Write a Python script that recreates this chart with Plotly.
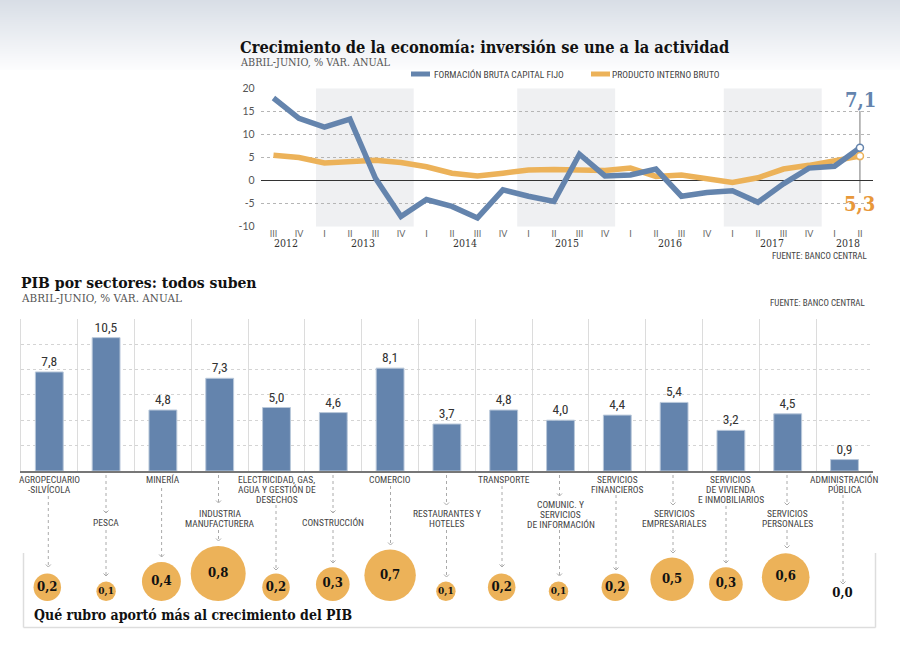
import math
import plotly.graph_objects as go

# ---------------------------
# Data
# ---------------------------
quarters = ["III", "IV",
            "I", "II", "III", "IV",
            "I", "II", "III", "IV",
            "I", "II", "III", "IV",
            "I", "II", "III", "IV",
            "I", "II", "III", "IV",
            "I", "II"]
years = ["2012", "2013", "2014", "2015", "2016", "2017", "2018"]
fbcf = [17.9, 13.5, 11.6, 13.3, 0.5, -7.8, -4.1, -5.6, -8.1, -2.0, -3.4, -4.5,
        5.7, 1.0, 1.2, 2.5, -3.4, -2.6, -2.2, -4.7, -0.7, 2.7, 3.1, 7.1]
pib = [5.5, 5.0, 3.8, 4.2, 4.4, 3.9, 3.0, 1.6, 1.0, 1.6, 2.3, 2.4,
       2.2, 2.2, 2.7, 0.9, 1.2, 0.4, -0.4, 0.6, 2.5, 3.3, 4.2, 5.3]
y_ticks = [20, 15, 10, 5, 0, -5, -10]
y_tick_labels = ["20", "15", "10", "5", "0", "-5", "-10"]

sectors = ["AGROPECUARIO<br>-SILVÍCOLA", "PESCA", "MINERÍA", "INDUSTRIA<br>MANUFACTURERA",
           "ELECTRICIDAD, GAS,<br>AGUA Y GESTIÓN DE<br>DESECHOS", "CONSTRUCCIÓN", "COMERCIO",
           "RESTAURANTES Y<br>HOTELES", "TRANSPORTE", "COMUNIC. Y<br>SERVICIOS<br>DE INFORMACIÓN",
           "SERVICIOS<br>FINANCIEROS", "SERVICIOS<br>EMPRESARIALES",
           "SERVICIOS<br>DE VIVIENDA<br>E INMOBILIARIOS", "SERVICIOS<br>PERSONALES",
           "ADMINISTRACIÓN<br>PÚBLICA"]
growth = [7.8, 10.5, 4.8, 7.3, 5.0, 4.6, 8.1, 3.7, 4.8, 4.0, 4.4, 5.4, 3.2, 4.5, 0.9]
contribution = [0.2, 0.1, 0.4, 0.8, 0.2, 0.3, 0.7, 0.1, 0.2, 0.1, 0.2, 0.5, 0.3, 0.6, 0.0]

# ---------------------------
# Layout constants (pixels on the 900x649 page)
# ---------------------------
W, H = 900, 649
BLUE = "#6484ad"
ORANGE = "#ecb259"
SERIF = "DejaVu Serif Condensed, DejaVu Serif"
SANS = "Noto Sans Condensed, Roboto Condensed, Lato"
GRAY = "#444"

BAND_SPANS = [(1.67, 5.5), (9.56, 13.4), (17.66, 21.5)]
YEAR_POS = [0.5, 3.5, 7.5, 11.5, 15.55, 19.55, 22.55]
LABEL_Y = [479, 522, 479, 513, 479, 522, 479, 513, 479, 504, 479, 513, 479, 513, 479]
BUBBLE_NUDGE = [-2, 0, -1.5, -1.5, -0.5, -0.5, 0, -1, -2, -2, -2, -2, -5, -2, -2]
BUBBLE_SCALE = 61.5  # pixels of diameter for sqrt(value)=1

# x, start, end, arrow head at the end
CONNECTORS = [
    (48.3, 496, 567), (106, 475, 513), (106, 530, 576), (161.6, 488, 557),
    (218.5, 475, 503), (218.5, 530, 541), (276, 505, 570), (333, 475, 513),
    (333, 530, 563), (390.5, 486, 545), (446.5, 475, 505), (446.5, 530, 577),
    (502, 486, 567), (559.5, 475, 496), (559.5, 530, 576), (616, 495, 570),
    (673, 475, 505), (673, 530, 553), (726, 506, 563), (787, 475, 505),
    (787, 530, 548), (843, 495, 584),
]


def fx(px):
    return px / W


def fy(px):
    return 1 - px / H


def text(x, y, s, size, color=GRAY, family=SANS, anchor="left", bold=False, **kw):
    if bold:
        s = f"<b>{s}</b>"
    pos = dict(x=fx(x), xref="paper") if "xref" not in kw else dict(x=x)
    return dict(y=fy(y), yref="paper", text=s, showarrow=False, xanchor=anchor, yanchor="middle",
                borderpad=0, borderwidth=0,
                font=dict(size=size, color=color, family=family), **pos, **kw)


def paper_line(x0, y0, x1, y1, color, width, dash="solid"):
    return dict(type="line", xref="paper", yref="paper", x0=fx(x0), y0=fy(y0), x1=fx(x1), y1=fy(y1),
                line=dict(color=color, width=width, dash=dash))


fig = go.Figure()

# ---------------------------
# Top chart
# ---------------------------
idx = list(range(len(quarters)))
fig.add_trace(go.Scatter(x=idx, y=pib, mode="lines", line=dict(color=ORANGE, width=5.5),
                         xaxis="x", yaxis="y", name="PRODUCTO INTERNO BRUTO"))
fig.add_trace(go.Scatter(x=idx, y=fbcf, mode="lines", line=dict(color=BLUE, width=5.5),
                         xaxis="x", yaxis="y", name="FORMACIÓN BRUTA CAPITAL FIJO"))
fig.add_trace(go.Scatter(x=[idx[-1]], y=[pib[-1]], mode="markers", xaxis="x", yaxis="y",
                         marker=dict(size=7, color="white", line=dict(color=ORANGE, width=1.5))))
fig.add_trace(go.Scatter(x=[idx[-1]], y=[fbcf[-1]], mode="markers", xaxis="x", yaxis="y",
                         marker=dict(size=7, color="white", line=dict(color=BLUE, width=1.5))))

# ---------------------------
# Bars
# ---------------------------
fig.add_trace(go.Bar(x=sectors, y=growth, xaxis="x2", yaxis="y2", width=0.49,
                     marker=dict(color=BLUE, line=dict(color="#b9c8da", width=1)),
                     texttemplate="%{y:.1f}", textposition="outside", cliponaxis=False,
                     textfont=dict(size=13.5, color="#333", family=SANS)))

# ---------------------------
# Bubbles, sitting on a common base line
# ---------------------------
pitch = 852 / len(sectors)
diam = [BUBBLE_SCALE * math.sqrt(v) for v in contribution]
bubble_x = [i + n / pitch for i, n in enumerate(BUBBLE_NUDGE)]
bubble_y = [max(d / 2, 7) for d in diam]
fig.add_trace(go.Scatter(x=bubble_x, y=bubble_y, xaxis="x3", yaxis="y3", mode="markers+text",
                         text=[f"{v:.1f}".replace(".", ",") for v in contribution],
                         textposition="middle center", cliponaxis=False,
                         textfont=dict(family=SERIF, color="#111",
                                       size=[10 if v == 0.1 else 13 for v in contribution],
                                       weight="bold"),
                         marker=dict(size=diam, sizemode="diameter", color=ORANGE, opacity=1,
                                     line=dict(width=0))))

# ---------------------------
# Shapes
# ---------------------------
shapes = []
# grey fade at the top of the page
fade_h = 70
for i in range(fade_h):
    t = i / fade_h
    c = [round(a + (b - a) * t) for a, b in zip((216, 222, 230), (253, 253, 254))]
    shapes.append(dict(type="rect", xref="paper", yref="paper", x0=0, x1=1, y0=fy(i), y1=fy(i + 1),
                       fillcolor=f"rgb({c[0]},{c[1]},{c[2]})", line=dict(width=0), layer="below"))
for x0, x1 in BAND_SPANS:
    shapes.append(dict(type="rect", xref="x", yref="y", x0=x0, x1=x1, y0=-10, y1=20,
                       fillcolor="#eff0f2", line=dict(width=0), layer="below"))
# leader between the two end values
shapes.append(dict(type="line", xref="x", yref="paper", x0=idx[-1], x1=idx[-1], y0=fy(111), y1=fy(193),
                   line=dict(color="#777", width=1), layer="between"))
# legend keys
shapes.append(paper_line(411, 74, 430, 74, BLUE, 5))
shapes.append(paper_line(591, 74, 610, 74, ORANGE, 5))
# box round the bubbles
shapes.append(paper_line(23.5, 553, 23.5, 627.5, "#ddd", 1.5))
shapes.append(paper_line(23.5, 627.5, 875.5, 627.5, "#ddd", 1.5))
shapes.append(paper_line(875.5, 553, 875.5, 627.5, "#ddd", 1.5))
# connectors from the labels to the bubbles
for x, y0, y1 in CONNECTORS:
    shapes.append(paper_line(x, y0, x, y1, "#aaa", 1, "dot"))
    shapes.append(dict(type="path", xref="paper", yref="paper",
                       path=f"M {fx(x - 2.5)} {fy(y1 - 2.5)} L {fx(x)} {fy(y1)} L {fx(x + 2.5)} {fy(y1 - 2.5)}",
                       line=dict(color="#aaa", width=1)))

# ---------------------------
# Text
# ---------------------------
annotations = [
    text(240, 48, "Crecimiento de la economía: inversión se une a la actividad", 16.3, "#111", SERIF, bold=True),
    text(240, 62, "ABRIL-JUNIO, % VAR. ANUAL", 10.8, "#555", SERIF),
    text(434, 74, "FORMACIÓN BRUTA CAPITAL FIJO", 9.5, "#444"),
    text(612, 74, "PRODUCTO INTERNO BRUTO", 9.5, "#444"),
    text(868, 256, "FUENTE: BANCO CENTRAL", 9, "#444", anchor="right"),
    text(21, 282.5, "PIB por sectores: todos suben", 15.6, "#111", SERIF, bold=True),
    text(21, 297.5, "ABRIL-JUNIO, % VAR. ANUAL", 11.6, "#555", SERIF),
    text(866, 303, "FUENTE: BANCO CENTRAL", 9, "#444", anchor="right"),
    text(33.5, 615, "Qué rubro aportó más al crecimiento del PIB", 14, "#111", SERIF, bold=True),
    text(860, 100, "7,1", 20, BLUE, SERIF, anchor="center", bold=True),
    text(859, 204, "5,3", 20, "#e8983a", SERIF, anchor="center", bold=True),
]
for pos, year in zip(YEAR_POS, years):
    annotations.append(text(pos, 243, year, 10.5, "#333", SERIF, anchor="center", xref="x"))
for sector, y in zip(sectors, LABEL_Y):
    for n, line in enumerate(sector.split("<br>")):
        annotations.append(text(sector, y + 10 * n, line, 9.5, "#444", anchor="center", xref="x2"))

# ---------------------------
# Layout
# ---------------------------
fig.update_layout(
    width=W, height=H, margin=dict(l=0, r=0, t=0, b=0, pad=0, autoexpand=False),
    paper_bgcolor="white", plot_bgcolor="rgba(0,0,0,0)",
    showlegend=False, separators=", ",
    shapes=shapes, annotations=annotations,
    xaxis=dict(domain=[fx(260.7), fx(872.7)], range=[-0.5, 23.5], tickmode="array",
               tickvals=idx, ticktext=quarters, showgrid=False, zeroline=False, ticks="",
               tickfont=dict(size=9, color="#666", family="Lato"), anchor="y"),
    yaxis=dict(domain=[fy(226.7), fy(88.3)], range=[-10, 20], tickmode="array",
               tickvals=y_ticks, ticktext=y_tick_labels, anchor="x",
               gridcolor="#b5b5b5", griddash="dot", gridwidth=1,
               zeroline=True, zerolinecolor="#333", zerolinewidth=1.3,
               tickfont=dict(size=10.5, color="#555", family="Lato"), ticklabelstandoff=5),
    xaxis2=dict(domain=[fx(20.9), fx(872.9)], type="category", categoryorder="array",
                categoryarray=sectors, range=[-0.5, 14.5], anchor="y2", showticklabels=False, ticks="",
                tickson="boundaries", showgrid=True, gridcolor="#dcdcdc", gridwidth=1,
                showline=True, linecolor="#777", linewidth=2, zeroline=False),
    yaxis2=dict(domain=[fy(471), fy(318.6)], range=[0, 12], dtick=2, anchor="x2",
                showticklabels=False, gridcolor="#d4d4d4", griddash="dot", gridwidth=1,
                zeroline=False, showline=True, linecolor="#dcdcdc", linewidth=1),
    xaxis3=dict(domain=[fx(20.9), fx(872.9)], range=[-0.5, 14.5], visible=False, anchor="y3"),
    yaxis3=dict(domain=[fy(601), fy(541)], range=[0, 60], visible=False, anchor="x3"),
)

fig.write_html("out.html", config=dict(displayModeBar=False), post_script="document.body.style.margin='0';")
